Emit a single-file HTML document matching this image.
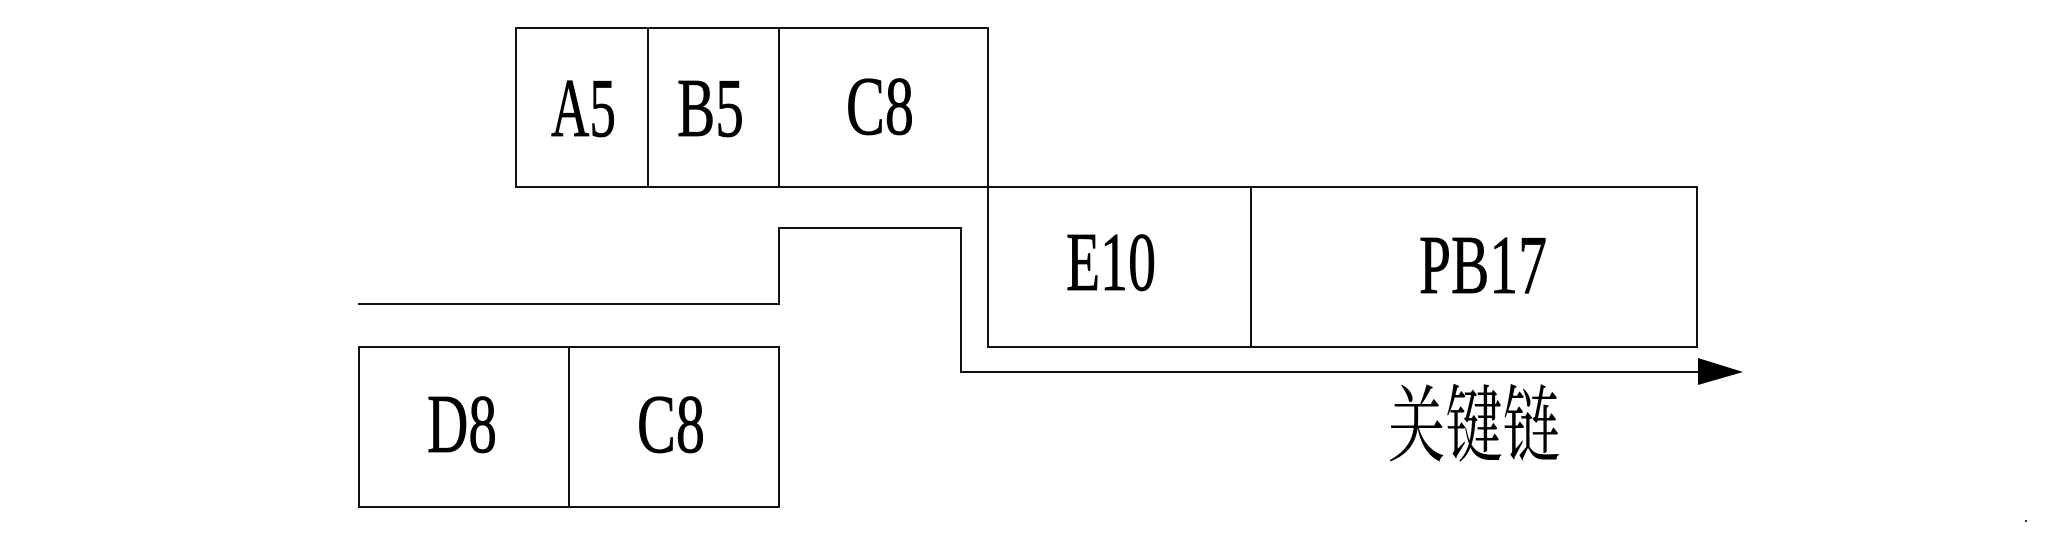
<!DOCTYPE html>
<html>
<head>
<meta charset="utf-8">
<style>
  html, body { margin: 0; padding: 0; background: #ffffff; }
  body { width: 2048px; height: 554px; overflow: hidden; }
  svg { display: block; }
  .lbl { font-family: "Liberation Serif", "Times New Roman", serif; font-size: 84px; fill: #000; stroke: #000; stroke-width: 0.8px; }
  .cjk { font-family: "Liberation Serif", "Noto Serif CJK SC", "Noto Sans CJK SC", serif; font-size: 84px; fill: #000; }
</style>
</head>
<body>
<svg width="2048" height="554" viewBox="0 0 2048 554" xmlns="http://www.w3.org/2000/svg">
  <g fill="none" stroke="#111" stroke-width="2">
    <!-- Top row: A5 B5 C8 -->
    <rect x="516" y="28" width="472" height="159"/>
    <line x1="648" y1="28" x2="648" y2="187"/>
    <line x1="779" y1="28" x2="779" y2="187"/>
    <!-- Middle row: E10 PB17 -->
    <rect x="988" y="187" width="709" height="160"/>
    <line x1="1251" y1="187" x2="1251" y2="347"/>
    <!-- Bottom row: D8 C8 -->
    <rect x="359" y="347" width="420" height="160"/>
    <line x1="569" y1="347" x2="569" y2="507"/>
    <!-- Step connector to critical chain arrow -->
    <polyline points="358,304 779,304 779,228 961,228 961,372 1702,372"/>
  </g>
  <!-- Arrowhead -->
  <polygon points="1698,358 1743,372 1698,385" fill="#000"/>
  <!-- tiny dot -->
  <rect x="2025" y="520" width="2" height="2" fill="#333"/>

  <!-- Labels -->
  <text class="lbl" x="551" y="136" textLength="65" lengthAdjust="spacingAndGlyphs">A5</text>
  <text class="lbl" x="677" y="136" textLength="67" lengthAdjust="spacingAndGlyphs">B5</text>
  <text class="lbl" x="846" y="134" textLength="68" lengthAdjust="spacingAndGlyphs">C8</text>
  <text class="lbl" x="1066" y="290" textLength="90" lengthAdjust="spacingAndGlyphs">E10</text>
  <text class="lbl" x="1419" y="293" textLength="128" lengthAdjust="spacingAndGlyphs">PB17</text>
  <text class="lbl" x="427" y="452" textLength="70" lengthAdjust="spacingAndGlyphs">D8</text>
  <text class="lbl" x="637" y="452" textLength="68" lengthAdjust="spacingAndGlyphs">C8</text>
  <text class="cjk" x="1388" y="455" textLength="172" lengthAdjust="spacingAndGlyphs">关键链</text>
</svg>
</body>
</html>
